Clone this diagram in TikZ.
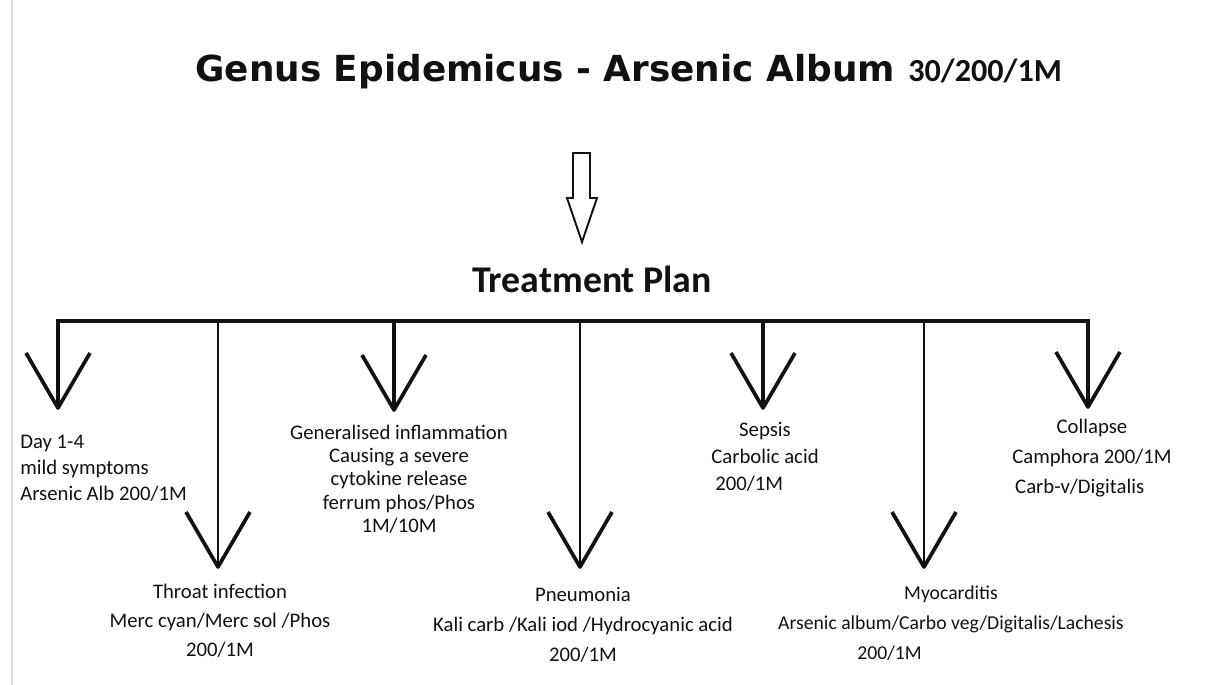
\documentclass[tikz,border=0pt]{standalone}
\usepackage{fontspec}
\setmainfont{Carlito}
\newfontfamily\titlefont{DejaVu Sans}
\usepackage{tikz}
\definecolor{inkblack}{HTML}{111111}
\definecolor{edgegray}{HTML}{DDDDDD}

\tikzset{
  lbl/.style={inner sep=0pt, align=center, text=inkblack,
    font=\fontsize{11.8}{15.5}\selectfont},
  barb/.style={draw=inkblack, line width=2.1pt, line join=round},
}

\begin{document}
\begin{tikzpicture}[x=0.02cm, y=-0.02cm]
  \useasboundingbox (0,0) rectangle (1208,685);
  \draw[edgegray, line width=0.6pt] (12,0) -- (12,685);
  % Heading
  \node[anchor=base west, inner sep=0pt, text=inkblack,
    font=\titlefont\bfseries\fontsize{20.4}{23}\selectfont] (title) at (195,82)
    {Genus Epidemicus - Arsenic Album};
  \node[anchor=base west, inner sep=0pt, text=inkblack,
    font=\bfseries\fontsize{18.3}{21}\selectfont] (dose) at (908,82) {30/200/1M};
  \node[anchor=base, inner sep=0pt, text=inkblack,
    font=\bfseries\fontsize{21.5}{24}\selectfont] (plan) at (592,293) {Treatment Plan};
  % Hollow arrow
  \draw[inkblack, line width=1.1pt, line join=miter]
    (573,153) -- (590,153) -- (590,198) -- (597,198) -- (582,242)
    -- (567,198) -- (573,198) -- cycle;
  % Branches
  \foreach \n/\x/\y/\w in {1/58/408/2.3pt, 2/218/567/1.5pt, 3/394/410/2.3pt,
      4/580/567/1.5pt, 5/763/408/2.3pt, 6/924/567/1.5pt, 7/1088/407/2.3pt} {
    \coordinate (top\n) at (\x,321);
    \coordinate (tip\n) at (\x,\y);
    \draw[inkblack, line width=\w] (top\n) -- (tip\n);
    \draw[barb] (tip\n) ++(-32,-55) -- (tip\n) -- ++(32,-55);
  }
  \draw[inkblack, line width=2.3pt, line cap=rect] (top1) -- (top7);
  % Labels
  \node[lbl, align=left, anchor=west, font=\fontsize{11.8}{14.8}\selectfont] (day) at (20,468)
    {Day 1-4\\mild symptoms\\Arsenic Alb 200/1M};
  \node[lbl, font=\fontsize{11.8}{16.5}\selectfont] (throat) at (220,621)
    {Throat infection\\Merc cyan/Merc sol /Phos\\200/1M};
  \node[lbl, font=\fontsize{11.8}{13.3}\selectfont] (inflam) at (399,479)
    {Generalised inflammation\\Causing a severe\\cytokine release\\ferrum phos/Phos\\1M/10M};
  \node[lbl, font=\fontsize{11.8}{17}\selectfont] (pneu) at (583,625)
    {Pneumonia\\Kali carb /Kali iod /Hydrocyanic acid\\200/1M};
  \node[lbl] (sepsis) at (765,457)
    {Sepsis\\Carbolic acid\\200/1M\hspace*{18pt}};
  \node[lbl, font=\fontsize{11.2}{17}\selectfont] (myo) at (951,623)
    {Myocarditis\\Arsenic album/Carbo veg/Digitalis/Lachesis\\200/1M\hspace*{70pt}};
  \node[lbl, font=\fontsize{11.8}{17}\selectfont] (collapse) at (1092,458)
    {Collapse\\Camphora 200/1M\\Carb-v/Digitalis\hspace*{14pt}};
\end{tikzpicture}
\end{document}
